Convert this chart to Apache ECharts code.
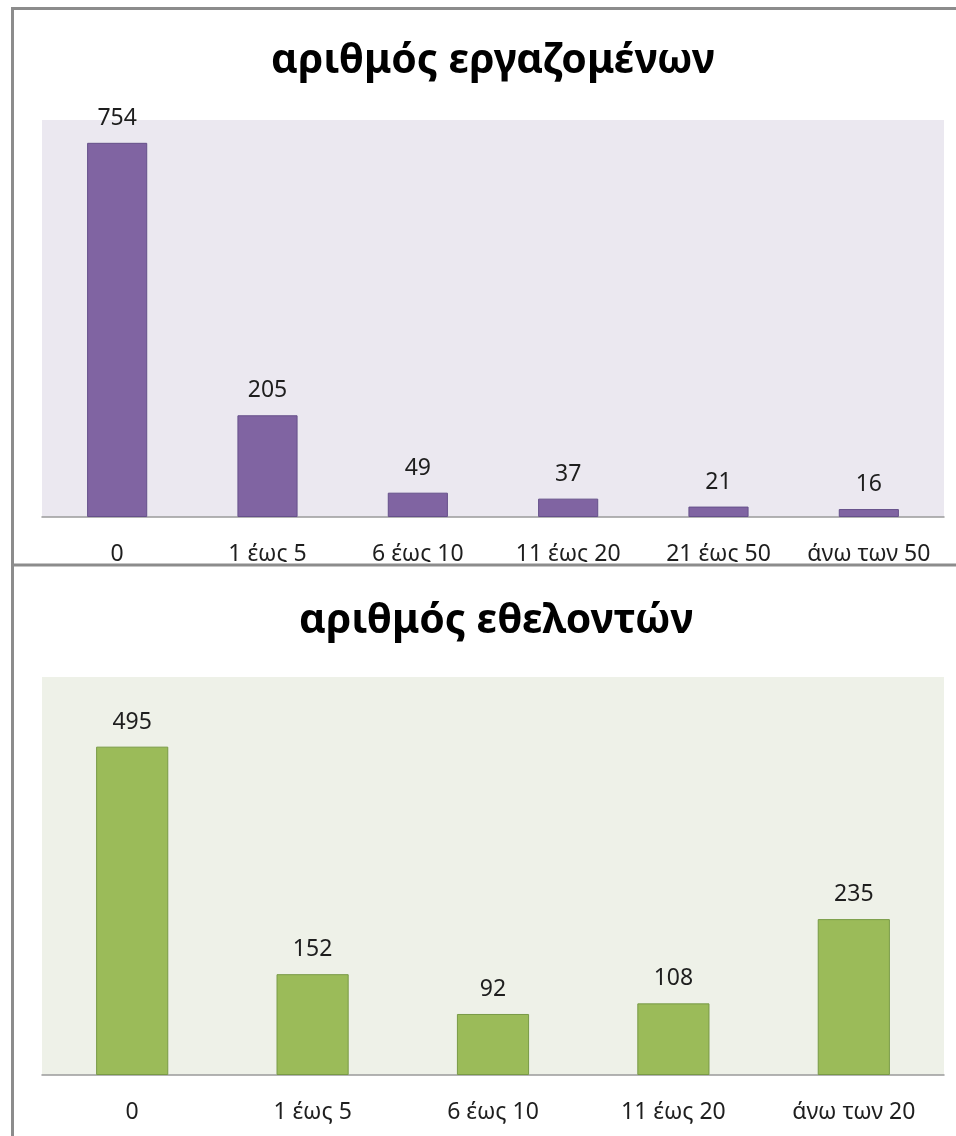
<!DOCTYPE html>
<html>
<head>
<meta charset="utf-8">
<script src="https://cdn.jsdelivr.net/npm/echarts@6/dist/echarts.min.js"></script>
<style>
html,body{margin:0;padding:0;background:#fff;width:956px;height:1136px;overflow:hidden;}
#c1{position:absolute;left:0;top:0;width:956px;height:566px;}
#c2{position:absolute;left:0;top:562px;width:956px;height:574px;}
</style>
</head>
<body>
<div id="c1"></div>
<div id="c2"></div>
<script>
const title1 = 'αριθμός εργαζομένων';
const categories1 = ['0', '1 έως 5', '6 έως 10', '11 έως 20', '21 έως 50', 'άνω των 50'];
const values1 = [754, 205, 49, 37, 21, 16];

const title2 = 'αριθμός εθελοντών';
const categories2 = ['0', '1 έως 5', '6 έως 10', '11 έως 20', 'άνω των 20'];
const values2 = [495, 152, 92, 108, 235];

const FONT = 'Noto Sans';

function makeOption(title, cats, vals, opts) {
  return {
    animation: false,
    backgroundColor: '#ffffff',
    textStyle: { fontFamily: FONT },
    title: {
      text: title,
      left: opts.titleLeft,
      top: opts.titleTop,
      textStyle: { fontFamily: FONT, fontSize: 41, fontWeight: 'bold', color: '#000' }
    },
    grid: {
      left: 42, right: 12, top: opts.gridTop, bottom: opts.gridBottom,
      show: true, backgroundColor: opts.bg, borderWidth: 0
    },
    xAxis: {
      type: 'category',
      data: cats,
      axisLine: { show: true, lineStyle: { color: '#9a9a9a', width: 1.5 } },
      axisTick: { show: false },
      axisLabel: { fontFamily: FONT, fontSize: 23, color: '#1e1e1e', margin: 26, interval: 0 }
    },
    yAxis: {
      type: 'value',
      min: 0, max: opts.max,
      show: false,
      splitLine: { show: false }
    },
    series: [{
      type: 'bar',
      data: vals,
      barWidth: '40%',
      itemStyle: { color: opts.color, borderColor: opts.border, borderWidth: 1 },
      label: {
        show: true, position: 'top', distance: 13,
        fontFamily: FONT, fontSize: 23, color: '#1e1e1e'
      }
    }],
    graphic: opts.graphic
  };
}

const lineStyle = { stroke: '#8c8c8c', lineWidth: 3 };

const chart1 = echarts.init(document.getElementById('c1'), null, { renderer: 'canvas' });
chart1.setOption(makeOption(title1, categories1, values1, {
  titleLeft: 266, titleTop: 36, gridTop: 120, gridBottom: 47, max: 800,
  bg: '#ebe8f0', color: '#8064a2', border: '#65508a',
  graphic: [
    { type: 'line', z: 100, shape: { x1: 11, y1: 8.5, x2: 960, y2: 8.5 }, style: lineStyle },
    { type: 'line', z: 100, shape: { x1: 12.5, y1: 7, x2: 12.5, y2: 570 }, style: lineStyle }
  ]
}));

const chart2 = echarts.init(document.getElementById('c2'), null, { renderer: 'canvas' });
chart2.setOption(makeOption(title2, categories2, values2, {
  titleLeft: 294, titleTop: 34, gridTop: 115, gridBottom: 61, max: 600,
  bg: '#eef1e8', color: '#9bbb59', border: '#789a45',
  graphic: [
    { type: 'line', z: 100, shape: { x1: 11, y1: 3, x2: 960, y2: 3 }, style: lineStyle },
    { type: 'line', z: 100, shape: { x1: 12.5, y1: 0, x2: 12.5, y2: 580 }, style: lineStyle }
  ]
}));
</script>
</body>
</html>
